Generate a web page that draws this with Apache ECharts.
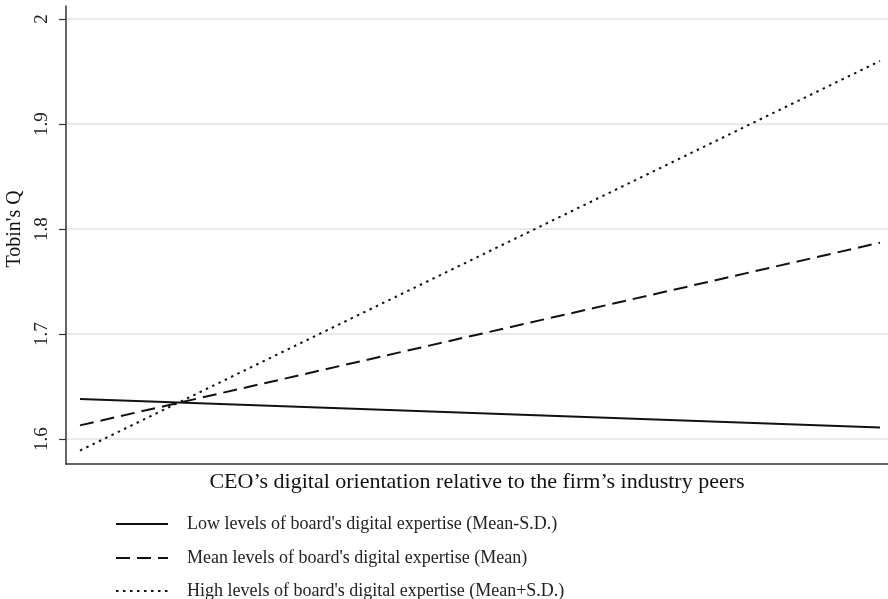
<!DOCTYPE html>
<html>
<head>
<meta charset="utf-8">
<script src="https://cdn.jsdelivr.net/npm/echarts@6/dist/echarts.min.js"></script>
<style>html,body{margin:0;padding:0;background:#fff;}#c{width:888px;height:599px;}</style>
</head>
<body>
<div id="c"></div>
<script>
const xPoints = [0, 1];
const lowValues = [1.638, 1.611];
const meanValues = [1.613, 1.787];
const highValues = [1.589, 1.960];
const yTicks = [1.6, 1.7, 1.8, 1.9, 2.0];
const seriesNames = [
  "Low levels of board's digital expertise (Mean-S.D.)",
  "Mean levels of board's digital expertise (Mean)",
  "High levels of board's digital expertise (Mean+S.D.)"
];
const xTitle = "CEO\u2019s digital orientation relative to the firm\u2019s industry peers";
const yTitle = "Tobin's Q";

const font = "'Liberation Serif', 'Times New Roman', serif";
const pairs = v => xPoints.map((x, i) => [x, v[i]]);
const dashes = ['solid', [14, 7], [2.5, 4.5]];
const vals = [lowValues, meanValues, highValues];
const legendTops = [515, 549, 582];

const chart = echarts.init(document.getElementById('c'));
chart.setOption({
  animation: false,
  backgroundColor: '#fff',
  grid: { left: 66, right: 0, top: 6, bottom: 135, outerBoundsMode: 'none', containLabel: false },
  legend: seriesNames.map((n, i) => ({
    orient: 'horizontal',
    left: 115,
    top: legendTops[i],
    padding: 0,
    itemWidth: 52,
    itemHeight: 14,
    data: [n],
    itemStyle: { opacity: 0 },
    textStyle: { fontFamily: font, fontSize: 18, color: '#222', padding: [0, 0, 0, 14] }
  })),
  xAxis: {
    type: 'value',
    min: -0.0175,
    max: 1.01,
    name: xTitle,
    nameLocation: 'middle',
    nameGap: 7,
    nameTextStyle: { fontFamily: font, fontSize: 22, color: '#111', verticalAlign: 'top' },
    axisLine: { show: true, onZero: false, lineStyle: { color: '#333', width: 1.5 } },
    axisTick: { show: false },
    axisLabel: { show: false },
    splitLine: { show: false }
  },
  yAxis: {
    type: 'value',
    min: 1.5762,
    max: 2.0124,
    name: yTitle,
    nameLocation: 'middle',
    nameGap: 38,
    nameTextStyle: { fontFamily: font, fontSize: 20, color: '#111', padding: [0, 0, 0, 12] },
    axisLine: { show: true, onZero: false, lineStyle: { color: '#333', width: 1.5 } },
    axisTick: { show: true, length: 7, customValues: yTicks, lineStyle: { color: '#333', width: 1.2 } },
    axisLabel: {
      customValues: yTicks,
      rotate: 90,
      margin: 14,
      fontFamily: font,
      fontSize: 19,
      color: '#222',
      formatter: v => String(+v.toFixed(1))
    },
    splitLine: { show: true, lineStyle: { color: '#e3e3e3', width: 1.5 } }
  },
  series: vals.map((v, i) => ({
    name: seriesNames[i],
    type: 'line',
    data: pairs(v),
    symbol: 'none',
    color: '#111',
    lineStyle: { color: '#111', width: 2, type: dashes[i] }
  }))
});
</script>
</body>
</html>
